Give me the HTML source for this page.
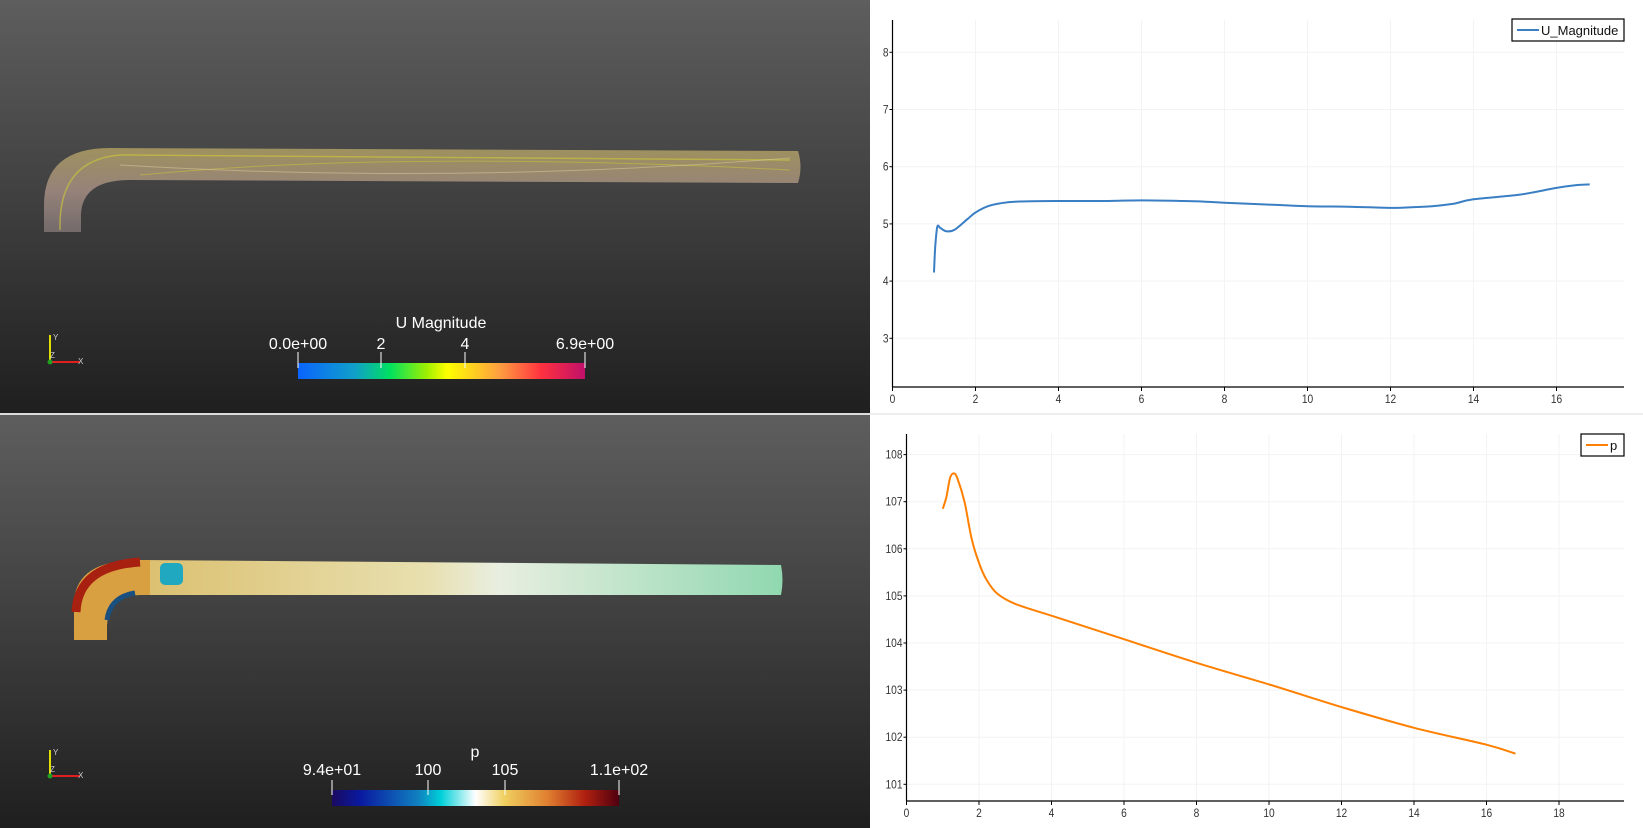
<!DOCTYPE html>
<html><head><meta charset="utf-8"><style>
html,body{margin:0;padding:0;width:1643px;height:828px;overflow:hidden;background:#fff;font-family:"Liberation Sans",sans-serif}
svg{display:block}
</style></head><body>
<svg width="1643" height="828" viewBox="0 0 1643 828" xmlns="http://www.w3.org/2000/svg">
<defs>
<linearGradient id="bg" x1="0" y1="0" x2="0" y2="1"><stop offset="0" stop-color="#5e5e5e"/><stop offset="1" stop-color="#1f1f1f"/></linearGradient>
<linearGradient id="cbU" x1="0" x2="1"><stop offset="0" stop-color="#0a64ff"/><stop offset="0.2" stop-color="#10a0c8"/><stop offset="0.32" stop-color="#00e060"/><stop offset="0.45" stop-color="#a0f000"/><stop offset="0.52" stop-color="#ffff00"/><stop offset="0.7" stop-color="#ffa040"/><stop offset="0.85" stop-color="#ff3040"/><stop offset="1" stop-color="#c0106a"/></linearGradient>
<linearGradient id="cbP" x1="0" x2="1"><stop offset="0" stop-color="#1a0a60"/><stop offset="0.1" stop-color="#0a1aa0"/><stop offset="0.3" stop-color="#1080c0"/><stop offset="0.38" stop-color="#00d0d8"/><stop offset="0.5" stop-color="#ffffff"/><stop offset="0.6" stop-color="#f0d060"/><stop offset="0.75" stop-color="#e08030"/><stop offset="0.88" stop-color="#b02010"/><stop offset="1" stop-color="#500010"/></linearGradient>
<linearGradient id="pipeU" x1="0" y1="0" x2="0" y2="1"><stop offset="0" stop-color="#a89a60"/><stop offset="0.5" stop-color="#a08a80"/><stop offset="1" stop-color="#7a7070"/></linearGradient>
<linearGradient id="pipeP" x1="0" x2="1"><stop offset="0" stop-color="#d8b860"/><stop offset="0.5" stop-color="#e8e0b0"/><stop offset="0.6" stop-color="#e8eee0"/><stop offset="1" stop-color="#90d8b0"/></linearGradient>
</defs>
<rect x="0" y="0" width="870" height="413" fill="url(#bg)"/>
<rect x="0" y="415" width="870" height="413" fill="url(#bg)"/>
<rect x="0" y="413" width="870" height="2" fill="#ddd"/>
<rect x="870" y="413" width="773" height="2" fill="#eee"/>
<g>
<path d="M44,232 L44,205 Q44,148 110,148 L798,151 Q803,167 798,183 L130,180 Q82,180 81,215 L81,232 Z" fill="url(#pipeU)" opacity="0.9"/>
<path d="M60,230 Q58,160 120,155 L790,160" stroke="#c8c040" fill="none" stroke-width="1.5" opacity="0.7"/>
<path d="M140,175 Q400,150 790,170" stroke="#c8c040" fill="none" stroke-width="1" opacity="0.6"/>
<path d="M120,165 Q450,185 790,158" stroke="#e0d0a0" fill="none" stroke-width="1" opacity="0.5"/>
</g>
<g>
<path d="M74,640 L74,605 Q74,560 140,560 L781,565 Q784,580 781,595 L140,595 Q108,595 107,625 L107,640 Z" fill="url(#pipeP)"/>
<path d="M74,640 L74,605 Q74,560 140,560 L150,560 L150,595 L140,595 Q108,595 107,625 L107,640 Z" fill="#d8a040"/>
<path d="M76,612 Q78,566 140,562" stroke="#a82010" stroke-width="9" fill="none"/>
<path d="M107,620 Q110,597 135,593" stroke="#1a5080" stroke-width="5" fill="none"/>
<rect x="160" y="563" width="23" height="22" rx="5" fill="#20a8c0"/>
</g>
<g><line x1="50" y1="362" x2="50" y2="335" stroke="#e0e000" stroke-width="2"/><line x1="50" y1="362" x2="80" y2="362" stroke="#e02020" stroke-width="2"/><circle cx="50" cy="362" r="2.5" fill="#20a020"/><text x="53" y="340" font-size="8" fill="#ccc">Y</text><text x="78" y="364" font-size="8" fill="#ccc">X</text><text x="50" y="358" font-size="8" fill="#ccc">Z</text></g>
<g><line x1="50" y1="776" x2="50" y2="750" stroke="#e0e000" stroke-width="2"/><line x1="50" y1="776" x2="80" y2="776" stroke="#e02020" stroke-width="2"/><circle cx="50" cy="776" r="2.5" fill="#20a020"/><text x="53" y="755" font-size="8" fill="#ccc">Y</text><text x="78" y="778" font-size="8" fill="#ccc">X</text><text x="50" y="772" font-size="8" fill="#ccc">Z</text></g>
<g fill="#fff" font-size="16" text-anchor="middle">
<text x="441" y="328">U Magnitude</text>
<text x="298" y="349">0.0e+00</text><text x="381" y="349">2</text><text x="465" y="349">4</text><text x="585" y="349">6.9e+00</text>
<rect x="298" y="363" width="287" height="16" fill="url(#cbU)"/>
<g stroke="#fff" stroke-width="1"><line x1="298" y1="352" x2="298" y2="368"/><line x1="381" y1="352" x2="381" y2="368"/><line x1="465" y1="352" x2="465" y2="368"/><line x1="585" y1="352" x2="585" y2="368"/></g>
</g>
<g fill="#fff" font-size="16" text-anchor="middle">
<text x="475" y="757">p</text>
<text x="332" y="775">9.4e+01</text><text x="428" y="775">100</text><text x="505" y="775">105</text><text x="619" y="775">1.1e+02</text>
<rect x="332" y="790" width="287" height="16" fill="url(#cbP)"/>
<g stroke="#fff" stroke-width="1"><line x1="332" y1="780" x2="332" y2="795"/><line x1="428" y1="780" x2="428" y2="795"/><line x1="505" y1="780" x2="505" y2="795"/><line x1="619" y1="780" x2="619" y2="795"/></g>
</g>
<g id="charts"></g>
</svg>
<script>
const uX=[1.0,1.03,1.08,1.15,1.3,1.5,1.8,2.0,2.3,2.6,3,4,5,6,7,7.5,8,9,10,11,12,12.5,13,13.5,14,15,15.5,16,16.5,16.8];
const uY=[4.15,4.6,4.95,4.93,4.87,4.9,5.08,5.2,5.31,5.36,5.39,5.4,5.4,5.41,5.4,5.39,5.37,5.34,5.31,5.3,5.28,5.29,5.31,5.35,5.43,5.5,5.56,5.63,5.68,5.69];
const uXTicks=[0,2,4,6,8,10,12,14,16];
const uYTicks=[3,4,5,6,7,8];
const pX=[1.0,1.1,1.2,1.3,1.4,1.6,1.8,2.0,2.2,2.5,3,4,6,8,10,12,14,16,16.8];
const pY=[106.85,107.1,107.5,107.6,107.5,107.0,106.2,105.7,105.35,105.05,104.83,104.58,104.08,103.58,103.12,102.64,102.2,101.84,101.65];
const pXTicks=[0,2,4,6,8,10,12,14,16,18];
const pYTicks=[101,102,103,104,105,106,107,108];
const NS='http://www.w3.org/2000/svg';
const root=document.getElementById('charts');
function mk(tag,attrs,parent){const e=document.createElementNS(NS,tag);for(const k in attrs)e.setAttribute(k,attrs[k]);(parent||root).appendChild(e);return e;}
function smooth(pts){let d='M'+pts[0][0].toFixed(1)+','+pts[0][1].toFixed(1);
  for(let i=0;i<pts.length-1;i++){const p0=pts[i-1]||pts[i],p1=pts[i],p2=pts[i+1],p3=pts[i+2]||p2;
    const c1=[p1[0]+(p2[0]-p0[0])/6,p1[1]+(p2[1]-p0[1])/6],c2=[p2[0]-(p3[0]-p1[0])/6,p2[1]-(p3[1]-p1[1])/6];
    d+=' C'+c1[0].toFixed(1)+','+c1[1].toFixed(1)+' '+c2[0].toFixed(1)+','+c2[1].toFixed(1)+' '+p2[0].toFixed(1)+','+p2[1].toFixed(1);}
  return d;}
function chart(o){
  const g=mk('g',{});
  
  
  const sx=v=>o.x0+(v-o.xv0)*o.kx, sy=v=>o.y0-(v-o.yv0)*o.ky;
  o.xt.forEach(t=>{mk('line',{x1:sx(t),x2:sx(t),y1:o.top,y2:o.bot,stroke:'#f3f3f3'},g);
    const tx=mk('text',{x:sx(t),y:o.bot+16,'font-size':12,fill:'#333','text-anchor':'middle',transform:'translate('+sx(t)+',0) scale(0.85,1) translate('+(-sx(t))+',0)'},g);tx.textContent=t;
    
    
    mk('line',{x1:sx(t),x2:sx(t),y1:o.bot,y2:o.bot+4,stroke:'#000'},g);});
  o.yt.forEach(t=>{mk('line',{x1:o.x0,x2:o.right,y1:sy(t),y2:sy(t),stroke:'#f3f3f3'},g);
    const tx=mk('text',{x:o.x0-4,y:sy(t)+4,'font-size':12,fill:'#333','text-anchor':'end',transform:'translate('+(o.x0-4)+',0) scale(0.85,1) translate('+(-(o.x0-4))+',0)'},g);tx.textContent=t;
    
    
    mk('line',{x1:o.x0-3,x2:o.x0,y1:sy(t),y2:sy(t),stroke:'#000'},g);});
  mk('line',{x1:o.x0,x2:o.x0,y1:o.top,y2:o.bot,stroke:'#000','stroke-width':1.2},g);
  mk('line',{x1:o.x0,x2:o.right,y1:o.bot,y2:o.bot,stroke:'#000','stroke-width':1.2},g);
  const pts=o.xs.map((v,i)=>[sx(v),sy(o.ys[i])]);
  const p=mk('path',{d:smooth(pts),fill:'none',stroke:o.color,'stroke-width':2,'stroke-linejoin':'round'},g);
  
  
  const lg=mk('g',{},g);
  
  
  mk('rect',{x:o.lx,y:o.ly,width:o.lw,height:22,fill:'#fff',stroke:'#000','stroke-width':1.2},lg);
  mk('line',{x1:o.lx+5,x2:o.lx+27,y1:o.ly+11,y2:o.ly+11,stroke:o.color,'stroke-width':2},lg);
  const lt=mk('text',{x:o.lx+29,y:o.ly+16,'font-size':13,fill:'#111'},lg);lt.textContent=o.label;
}
chart({name:'u-magnitude-chart',x0:892.5,xv0:0,kx:41.5,y0:338.3,yv0:3,ky:57.2,top:20,bot:387,right:1624,xt:uXTicks,yt:uYTicks,xs:uX,ys:uY,color:'#3a7fc4',lx:1512,ly:19,lw:112,label:'U_Magnitude'});
chart({name:'pressure-chart',x0:906.5,xv0:0,kx:36.25,y0:784.3,yv0:101,ky:47.1,top:434,bot:801,right:1624,xt:pXTicks,yt:pYTicks,xs:pX,ys:pY,color:'#ff8000',lx:1581,ly:434,lw:43,label:'p'});
</script>
</body></html>
